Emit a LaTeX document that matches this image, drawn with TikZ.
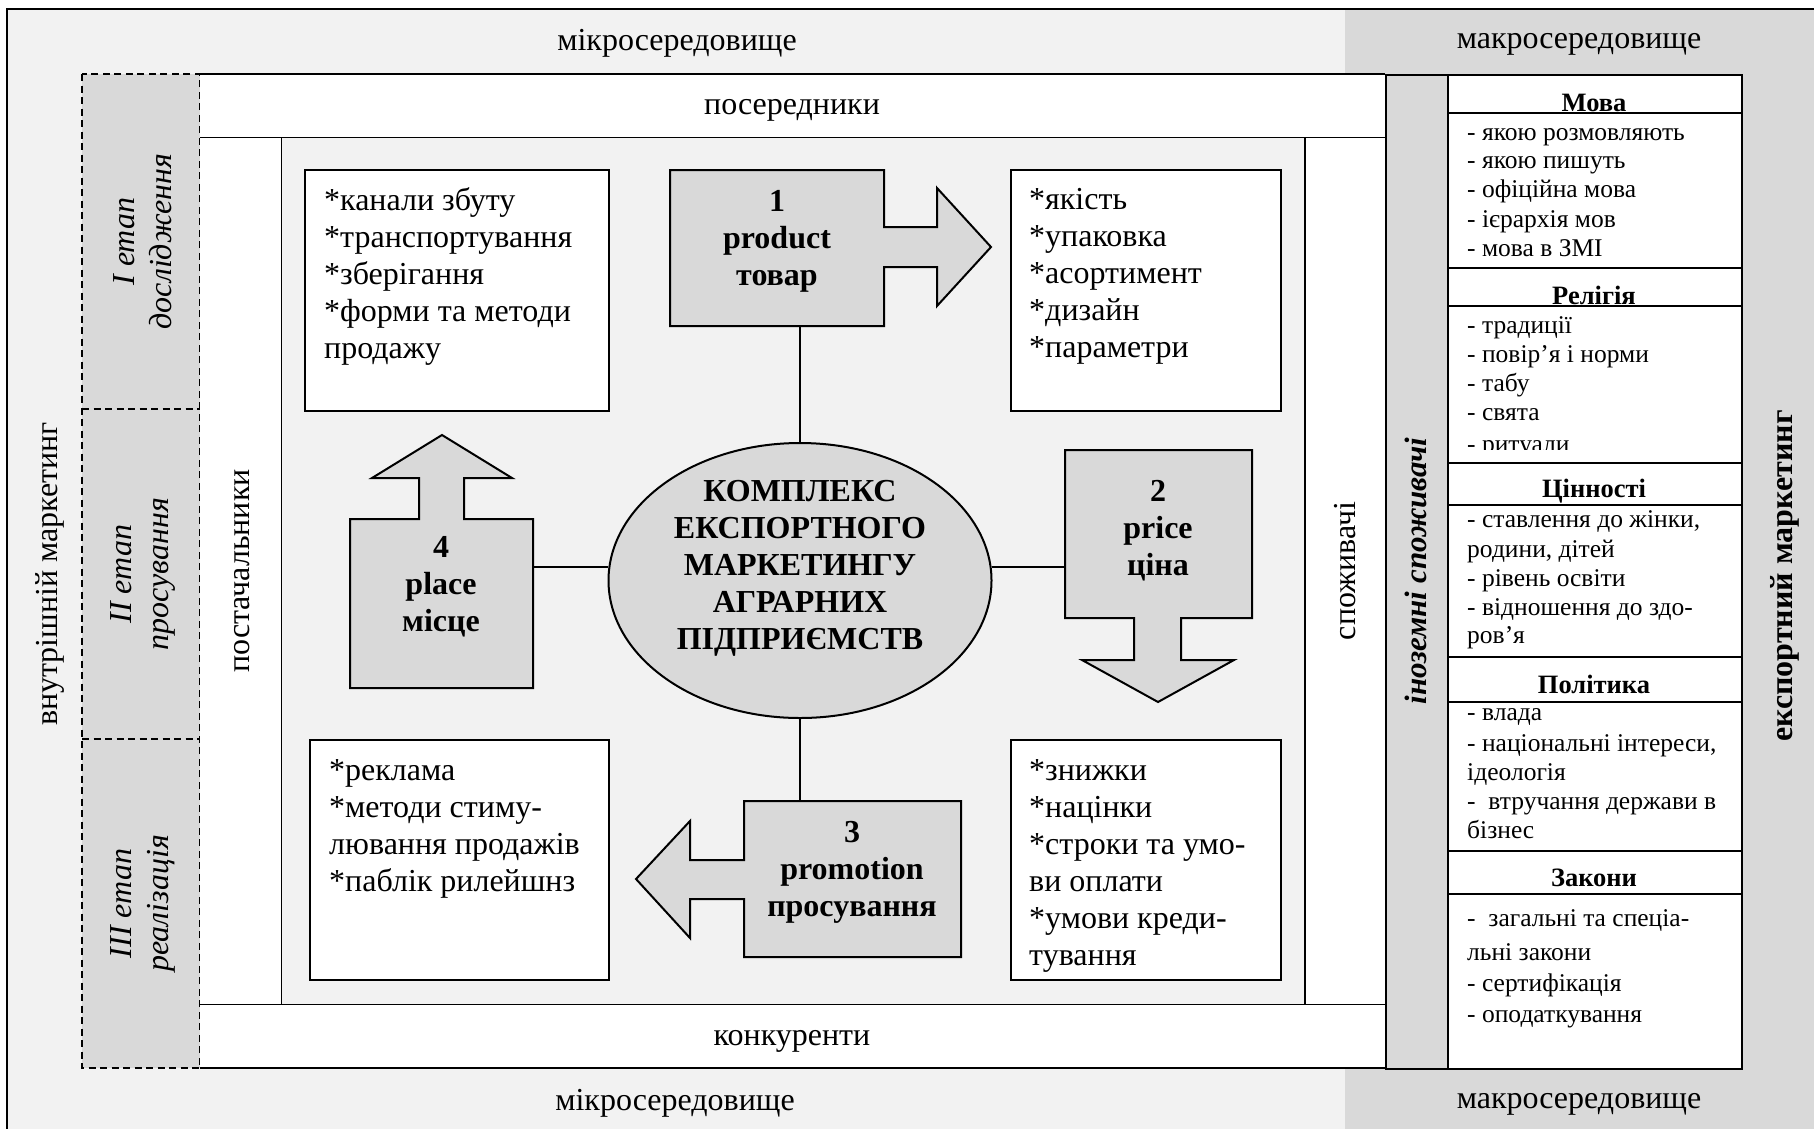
\documentclass[tikz,border=0pt]{standalone}
\usepackage{fontspec}
\setmainfont{Liberation Serif}
\usetikzlibrary{shapes.geometric,calc}
\definecolor{lg}{HTML}{F2F2F2}
\definecolor{mg}{HTML}{D9D9D9}
\newcommand\fsz[2]{\fontsize{#1}{#2}\selectfont}
\begin{document}
\begin{tikzpicture}[x=1pt,y=-1pt,
  frame/.style={line width=2pt},
  thinline/.style={line width=1.5pt},
  dashfive/.style={line width=1.6pt, dash pattern=on 7pt off 4.5pt},
  lbl/.style={inner sep=0pt, font=\fsz{32}{37}},
  vlbl/.style={lbl, rotate=90},
  txtbox/.style={draw, line width=2pt, fill=white, inner sep=0pt, anchor=north west},
  hidbox/.style={inner sep=0pt, anchor=north west},
  itemtext/.style={inner sep=0pt, align=left, anchor=west, font=\fsz{32}{37}},
  boldtext/.style={inner sep=0pt, align=center, font=\fsz{32}{37}\bfseries},
  tbhead/.style={inner sep=0pt, anchor=base, font=\fsz{26.5}{30}\bfseries},
  tbitem/.style={inner sep=0pt, anchor=base west, font=\fsz{25.5}{29}},
]
\useasboundingbox (0,0) rectangle (1814,1128);
\clip (0,0) rectangle (1814,1128);
\fill[white] (0,0) rectangle (1814,1128);
% outer environment
\fill[lg] (7,9) rectangle (1840,1150);
\fill[mg] (1345,9) rectangle (1840,1150);
\draw[frame] (7,1150) -- (7,9) -- (1840,9);
\node[lbl] (micro1) at (677,43) {мікросередовище};
\node[lbl] (macro1) at (1579,44) {макросередовище};
\node[lbl] (micro2) at (675,1103) {мікросередовище};
\node[lbl] (macro2) at (1579,1104) {макросередовище};
\node[vlbl] (inner) at (50,574) {внутрішній маркетинг};
\node[vlbl, font=\fsz{32}{37}\bfseries] (export) at (1785,576) {експортний маркетинг};

% stages column
\fill[mg] (82,74) rectangle (200,1068);
\draw[dashfive] (82,74) rectangle (200,1068);
\draw[dashfive] (82,409) -- (200,409);
\draw[dashfive] (82,739) -- (200,739);
\node[vlbl, align=center, font=\fsz{32}{37}\itshape] (st1) at (143,241.5) {I етап\\дослідження};
\node[vlbl, align=center, font=\fsz{32}{37}\itshape] (st2) at (143,574) {II етап\\просування};
\node[vlbl, align=center, font=\fsz{32}{37}\itshape] (st3) at (143,903.5) {III етап\\реалізація};

% micro-environment frame
\fill[white] (200,74) rectangle (1385,138);
\draw[frame] (200,74) -- (1385,74);
\draw[frame] (200,138) -- (1385,138);
\fill[white] (200,1004) rectangle (1385,1068);
\draw[frame] (200,1004) -- (1385,1004);
\draw[frame] (200,1068) -- (1385,1068);
\fill[white] (200,138) rectangle (282,1004);
\draw[frame] (282,138) -- (282,1004);
\fill[lg] (282,138) rectangle (1305,1004);
\fill[white] (1305,138) rectangle (1385,1004);
\draw[frame] (1305,138) -- (1305,1004);
\node[lbl] (interm) at (792,110) {посередники};
\node[lbl] (compet) at (792,1041) {конкуренти};
\node[vlbl] (suppl) at (242,571) {постачальники};
\node[vlbl] (consum) at (1345,571) {споживачі};

% foreign consumers column
\node[draw, frame, fill=mg, hidbox, minimum width=62, minimum height=994] (forcol) at (1385,74) {};
\node[rotate=90, inner sep=0pt, font=\fsz{31}{36}\bfseries\itshape] (forlbl) at (1416,571) {іноземні споживачі};

% table
\node[draw, frame, fill=white, hidbox, minimum width=294, minimum height=994] (tab) at (1447,74) {};
\node[tbhead] (h1) at (1594,111) {Мова};
\node[tbitem] (m1) at (1467,140) {- якою розмовляють};
\node[tbitem] (m2) at (1467,168) {- якою пишуть};
\node[tbitem] (m3) at (1467,197) {- офіційна мова};
\node[tbitem] (m4) at (1467,227) {- ієрархія мов};
\node[tbitem] (m5) at (1467,256) {- мова в ЗМІ};
\node[tbhead] (h2) at (1594,304) {Релігія};
\node[tbitem] (r1) at (1467,333) {- традиції};
\node[tbitem] (r2) at (1467,362) {- повір’я і норми};
\node[tbitem] (r3) at (1467,391) {- табу};
\node[tbitem] (r4) at (1467,420) {- свята};
\node[tbitem] (r5) at (1467,452) {- ритуали};
\fill[white] (1449,450) rectangle (1739,462);
\node[tbhead] (h3) at (1594,497) {Цінності};
\node[tbitem] (c1) at (1467,527) {- ставлення до жінки,};
\node[tbitem] (c2) at (1467,557) {родини, дітей};
\node[tbitem] (c3) at (1467,586) {- рівень освіти};
\node[tbitem] (c4) at (1467,615) {- відношення до здо-};
\node[tbitem] (c5) at (1467,643) {ров’я};
\node[tbhead] (h4) at (1594,693) {Політика};
\node[tbitem] (p1) at (1467,720) {- влада};
\node[tbitem] (p2) at (1467,751) {- національні інтереси,};
\node[tbitem] (p3) at (1467,780) {ідеологія};
\node[tbitem] (p4) at (1467,809) {-\ \ втручання держави в};
\node[tbitem] (p5) at (1467,838) {бізнес};
\node[tbhead] (h5) at (1594,886) {Закони};
\node[tbitem] (z1) at (1467,926) {-\ \ загальні та спеціа-};
\node[tbitem] (z2) at (1467,960) {льні закони};
\node[tbitem] (z3) at (1467,991) {- сертифікація};
\node[tbitem] (z4) at (1467,1022) {- оподаткування};
\foreach \yy in {113,268,306,463,505,657,702,851,894}
  \draw[frame] (1447,\yy) -- (1741,\yy);

% invisible anchors for the 4P boxes
\node[hidbox, minimum width=214, minimum height=156] (prod) at (670,170) {};
\node[hidbox, minimum width=183, minimum height=169] (place) at (350,519) {};
\node[hidbox, minimum width=187, minimum height=168] (price) at (1065,450) {};
\node[hidbox, minimum width=217, minimum height=156] (promo) at (744,801) {};

% central ellipse
\node[ellipse, draw, frame, fill=mg, minimum width=383, minimum height=275, inner sep=0pt] (ell) at (800,580.5) {};
\node[boldtext] (ellt) at (800,568.5) {КОМПЛЕКС\\ЕКСПОРТНОГО\\МАРКЕТИНГУ\\АГРАРНИХ\\ПІДПРИЄМСТВ};

% connectors
\draw[thinline] (ell.north) -- (ell.north |- prod.south);
\draw[thinline] (ell.south) -- (ell.south |- promo.north);
\draw[thinline] (ell.176) -- (ell.176 -| place.east);
\draw[thinline] (ell.4) -- (ell.4 -| price.west);

% block arrows
\draw[frame, fill=mg] (670,170) -- (884,170) -- (884,227) -- (937,227) -- (937,188) -- (991,247) -- (937,306) -- (937,267) -- (884,267) -- (884,326) -- (670,326) -- cycle;
\draw[frame, fill=mg] (350,519) -- (419,519) -- (419,478) -- (372,478) -- (442,435) -- (512,478) -- (464,478) -- (464,519) -- (533,519) -- (533,688) -- (350,688) -- cycle;
\draw[frame, fill=mg] (1065,450) -- (1252,450) -- (1252,618) -- (1181,618) -- (1181,660) -- (1234,660) -- (1158,702) -- (1082,660) -- (1134,660) -- (1134,618) -- (1065,618) -- cycle;
\draw[frame, fill=mg] (744,801) -- (961,801) -- (961,957) -- (744,957) -- (744,899) -- (690,899) -- (690,938) -- (636,879) -- (690,821) -- (690,860) -- (744,860) -- cycle;
\node[boldtext] (prodt) at (777,241) {1\\product\\товар};
\node[boldtext] (placet) at (441,587) {4\\place\\місце};
\node[boldtext] (pricet) at (1158,530.5) {2\\price\\ціна};
\node[boldtext] (promot) at (852,872.5) {3\\promotion\\просування};

% text boxes
\node[txtbox, minimum width=304, minimum height=241] (tl) at (304,169) {};
\node[itemtext] (tlt) at (324,276.5) {*канали збуту\\*транспортування\\*зберігання\\*форми та методи\\продажу};
\node[txtbox, minimum width=270, minimum height=241] (tr) at (1010,169) {};
\node[itemtext] (trt) at (1029,276.5) {*якість\\*упаковка\\*асортимент\\*дизайн\\*параметри};
\node[txtbox, minimum width=299, minimum height=240] (bl) at (309,739) {};
\node[itemtext] (blt) at (329,829) {*реклама\\*методи стиму-\\лювання продажів\\*паблік рилейшнз};
\node[txtbox, minimum width=270, minimum height=240] (br) at (1010,739) {};
\node[itemtext] (brt) at (1029,866) {*знижки\\*націнки\\*строки та умо-\\ви оплати\\*умови креди-\\тування};
\end{tikzpicture}
\end{document}
